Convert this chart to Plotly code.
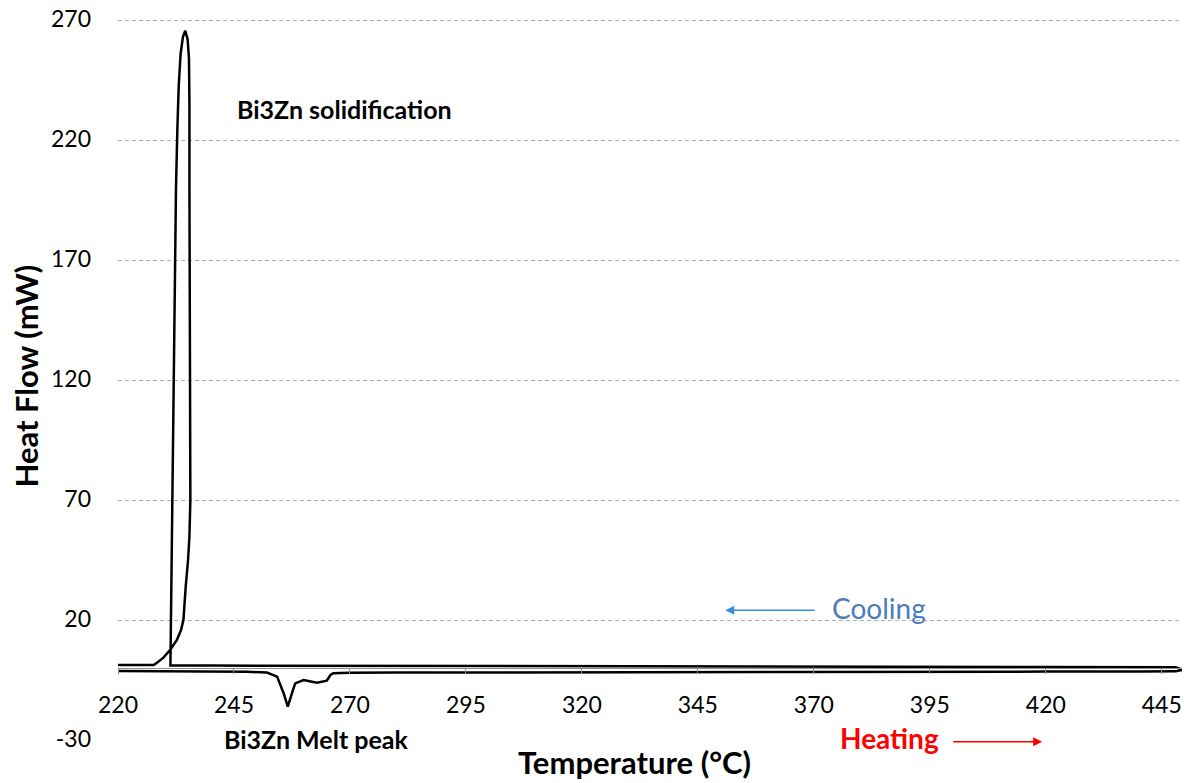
import plotly.graph_objects as go

# ---- data ----
heating_temp = [220, 230, 240, 248, 252.1, 254.3, 255.7, 256.6, 257.5, 258.2, 260.0,
                262.9, 265.0, 265.8, 266.4, 270, 280, 300, 330, 360, 390, 420, 440, 448, 449.5]
heating_flow = [-1.2, -1.3, -1.4, -1.6, -1.9, -3.6, -10.5, -16.1, -10.5, -6.4, -5.0,
                -6.1, -5.3, -2.9, -2.2, -2.0, -1.9, -1.8, -1.7, -1.6, -1.5, -1.5, -1.5, -1.4, -0.8]

cooling_temp = [449.5, 448, 420, 380, 340, 300, 260, 240, 231.3, 231.35, 231.5, 231.7,
                231.9, 232.2, 232.5, 232.8, 233.1, 233.5, 234.0, 234.5, 235.0, 235.3,
                235.4, 235.4, 235.5, 235.6, 235.6, 235.4, 235.1, 234.6, 234.1, 233.6,
                232.7, 231.3, 229.8, 228.4, 227.7, 225, 220]
cooling_flow = [-0.8, 0.3, 0.4, 0.6, 0.7, 0.8, 0.9, 1.0, 1.0, 10, 40, 80,
                120, 160, 200, 225, 243, 256, 263, 265.5, 262, 254,
                235, 200, 150, 100, 70, 55, 45, 34, 20, 15.9,
                11.7, 7.7, 4.3, 2.2, 1.2, 1.2, 1.2]

x_ticks = [220, 245, 270, 295, 320, 345, 370, 395, 420, 445]
y_ticks = [-30, 20, 70, 120, 170, 220, 270]
y_tick_text = ["-30", "20", "70", "120", "170", "220", "270"]

FONT = "Lato"
Y_TOP = 270 + 2 / 2.4   # 2 px of head-room so the 270 gridline is drawn

fig = go.Figure()
fig.add_trace(go.Scatter(x=heating_temp, y=heating_flow, mode="lines",
                         line=dict(color="black", width=2.5), showlegend=False))
fig.add_trace(go.Scatter(x=cooling_temp, y=cooling_flow, mode="lines",
                         line=dict(color="black", width=2.5), showlegend=False))

# the page body adds an 8px offset, so the figure is 8px smaller and margins shifted
fig.update_layout(
    width=1182, height=775,
    margin=dict(l=110, r=5, t=10, b=43),
    paper_bgcolor="white", plot_bgcolor="white",
    font=dict(family=FONT, color="black"),
    showlegend=False,
    xaxis=dict(range=[220, 450], tickvals=x_ticks, showgrid=False, zeroline=False,
               showline=True, linecolor="#8c8c8c", linewidth=1,
               ticks="outside", ticklen=5, tickcolor="#8c8c8c",
               anchor="free", position=30 / (Y_TOP + 30), automargin=False,
               tickfont=dict(size=23, family=FONT, color="black"),
               ticklabelstandoff=11),
    yaxis=dict(range=[-30, Y_TOP], tickvals=y_ticks, ticktext=y_tick_text, showgrid=True,
               gridcolor="#b0b0b0", griddash="4px,3px", gridwidth=1,
               zeroline=False, showline=False, ticks="", automargin=False,
               ticklabeloverflow="allow", ticklabelshift=-1,
               tickfont=dict(size=23, family=FONT, color="black"),
               ticklabelstandoff=26),
)

annotations = [
    dict(text="<b>Heat Flow (mW)</b>", xref="paper", yref="paper",
         x=-0.0862, y=0.5035, textangle=-90, showarrow=False,
         font=dict(size=31, family=FONT, color="black"), xanchor="center", yanchor="middle"),
    dict(text="<b>Temperature (°C)</b>", xref="paper", yref="paper",
         x=0.484, y=-0.0309, showarrow=False,
         font=dict(size=31, family=FONT, color="black"), xanchor="center", yanchor="middle"),
    dict(text="<b>Bi3Zn solidification</b>", xref="x", yref="y", x=245.3, y=232.9,
         showarrow=False, xanchor="left", yanchor="middle",
         font=dict(size=25, family=FONT, color="black")),
    dict(text="<b>Bi3Zn Melt peak</b>", xref="x", yref="y", x=242.5, y=-29.7,
         showarrow=False, xanchor="left", yanchor="middle",
         font=dict(size=25, family=FONT, color="black")),
    dict(text="Cooling", xref="x", yref="y", x=373.5, y=25.0,
         showarrow=False, xanchor="left", yanchor="middle",
         font=dict(size=28, family=FONT, color="#4a7ebb")),
    dict(text="<b>Heating</b>", xref="x", yref="y", x=375.2, y=-29.0,
         showarrow=False, xanchor="left", yanchor="middle",
         font=dict(size=28, family=FONT, color="#ff0000")),
    # arrows
    dict(x=350.9, y=24.1, ax=370.5, ay=24.1, xref="x", yref="y", axref="x", ayref="y",
         text="", showarrow=True, arrowhead=2, arrowsize=1.2, arrowwidth=1.5,
         arrowcolor="#3b8fd9"),
    dict(x=419.2, y=-0.0025, ax=399.7, ay=0, xref="x", yref="paper", axref="x", ayref="pixel",
         text="", showarrow=True, arrowhead=2, arrowsize=1.2, arrowwidth=1.5,
         arrowcolor="#ff0000"),
]
fig.update_layout(annotations=annotations)

fig.write_html("out.html")
